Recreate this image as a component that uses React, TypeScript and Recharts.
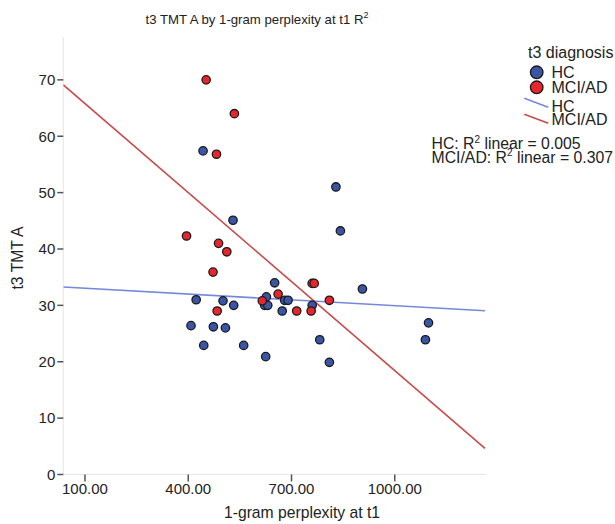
import { ScatterChart, Scatter, XAxis, YAxis } from "recharts";

// perplexity (x) and TMT A (y)
const hcX = [443, 530, 829, 842, 651, 423, 501, 532, 627, 622, 631, 680, 690, 760, 673, 408, 473, 508, 782, 445, 561, 625, 810, 906, 1098, 1089];
const hcY = [57.4, 45.1, 51.0, 43.2, 34.0, 31.0, 30.8, 30.0, 31.5, 30.0, 30.0, 30.9, 30.9, 30.0, 29.0, 26.4, 26.2, 26.0, 23.9, 22.9, 22.9, 20.9, 19.9, 32.9, 26.9, 23.9];
const mciX = [452, 534, 482, 395, 488, 512, 472, 760, 766, 661, 615, 810, 484, 715, 757];
const mciY = [70.0, 64.0, 56.8, 42.3, 41.0, 39.5, 35.9, 33.9, 33.9, 32.0, 30.8, 30.9, 29.0, 29.0, 29.0];

// fit line ends
const hcFitX = [37, 1262];
const hcFitY = [33.25, 29.05];
const mciFitX = [37, 1262];
const mciFitY = [69.1, 4.65];

const xTicks = [100, 400, 700, 1000];
const yTicks = [0, 10, 20, 30, 40, 50, 60, 70];

const toPts = (xs: number[], ys: number[]) => xs.map((x, i) => ({ x, y: ys[i] }));

const hcData = toPts(hcX, hcY);
const mciData = toPts(mciX, mciY);
const hcFit = toPts(hcFitX, hcFitY);
const mciFit = toPts(mciFitX, mciFitY);

const BLUE = "#3a55a6";
const RED = "#e8252d";
const font = "'Liberation Sans', Arial, sans-serif";

const dot = (fill: string) => (p: any) => (
  <circle cx={p.cx} cy={p.cy} r={4.2} fill={fill} stroke="#1a1a1a" strokeWidth={1.3} />
);
const none = () => <g />;

export default function App() {
  return (
    <div style={{ position: "absolute", left: 0, top: 0, width: 615, height: 524, background: "#fff", fontFamily: font }}>
      <ScatterChart width={615} height={524} margin={{ top: 37, right: 129, bottom: 0, left: 0 }}>
        <XAxis
          type="number"
          dataKey="x"
          domain={[37, 1265]}
          ticks={xTicks}
          allowDataOverflow
          height={49.5}
          tickSize={7}
          tickFormatter={(v: number) => v.toFixed(2)}
          axisLine={{ stroke: "#e6e6e6" }}
          tickLine={{ stroke: "#555", strokeWidth: 1.5 }}
          tick={{ fontSize: 15, fill: "#222", fontFamily: font }}
        />
        <YAxis
          type="number"
          dataKey="y"
          domain={[0, 77.6]}
          ticks={yTicks}
          allowDataOverflow
          width={63.3}
          tickSize={6}
          axisLine={{ stroke: "#e6e6e6" }}
          tickLine={{ stroke: "#555", strokeWidth: 1.5 }}
          tick={{ fontSize: 15, fill: "#222", fontFamily: font }}
        />
        <Scatter data={hcFit} line={{ stroke: "#7489d8", strokeWidth: 1.6 }} shape={none} isAnimationActive={false} />
        <Scatter data={mciFit} line={{ stroke: "#c94a4a", strokeWidth: 1.6 }} shape={none} isAnimationActive={false} />
        <Scatter data={hcData} shape={dot(BLUE)} isAnimationActive={false} />
        <Scatter data={mciData} shape={dot(RED)} isAnimationActive={false} />
      </ScatterChart>

      <svg width={615} height={524} style={{ position: "absolute", left: 0, top: 0, pointerEvents: "none" }} fontFamily={font} fill="#222">
        <text x={257} y={24} fontSize={13.2} textAnchor="middle">
          t3 TMT A by 1-gram perplexity at t1 R<tspan fontSize={9} dy={-6}>2</tspan>
        </text>
        <text x={302} y={518} fontSize={15.7} textAnchor="middle">1-gram perplexity at t1</text>
        <text transform="translate(23,258) rotate(-90)" fontSize={15.7} textAnchor="middle">t3 TMT A</text>

        <text x={528} y={57.5} fontSize={16}>t3 diagnosis</text>
        <circle cx={536.7} cy={72.3} r={6.3} fill={BLUE} stroke="#1a1a1a" strokeWidth={1.3} />
        <text x={551.5} y={78} fontSize={16}>HC</text>
        <circle cx={536.7} cy={87.3} r={6.3} fill={RED} stroke="#1a1a1a" strokeWidth={1.3} />
        <text x={551.5} y={93} fontSize={16}>MCI/AD</text>
        <line x1={524.3} y1={98.3} x2={548.3} y2={107.3} stroke="#7489d8" strokeWidth={1.6} />
        <text x={551.5} y={111.5} fontSize={16}>HC</text>
        <line x1={524.3} y1={114.3} x2={548.3} y2={123.3} stroke="#c94a4a" strokeWidth={1.6} />
        <text x={551.5} y={125} fontSize={16}>MCI/AD</text>

        <text x={431.5} y={149} fontSize={15.8}>
          HC: R<tspan fontSize={10} dy={-6.5}>2</tspan><tspan dy={6.5}> linear = 0.005</tspan>
        </text>
        <text x={431.5} y={162.5} fontSize={15.8}>
          MCI/AD: R<tspan fontSize={10} dy={-6.5}>2</tspan><tspan dy={6.5}> linear = 0.307</tspan>
        </text>
      </svg>
    </div>
  );
}
